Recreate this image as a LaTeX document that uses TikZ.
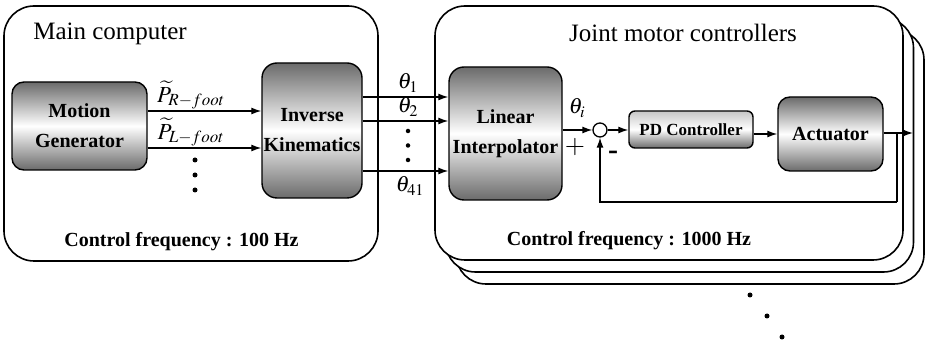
\documentclass[tikz,border=0pt]{standalone}
\usepackage{mathptmx}
\usepackage{fontspec}
\setmainfont{Liberation Serif}
\usetikzlibrary{arrows.meta}
\definecolor{boxdark}{gray}{0.42}
\begin{document}
\begin{tikzpicture}[x=1pt, y=-1pt,
    container/.style={draw=black, line width=1.6pt, rounded corners=30pt, fill=white},
    block/.style={draw=black, line width=1.4pt, rounded corners=12pt,
        top color=boxdark, bottom color=boxdark, middle color=white,
        font=\fontsize{20}{30}\selectfont\bfseries, align=center, inner sep=0pt},
    edge/.style={line width=1.3pt, -{Latex[length=10pt,width=7pt]}},
    line/.style={line width=1.3pt},
    title/.style={font=\fontsize{25}{30}\selectfont, anchor=base},
    freq/.style={font=\fontsize{20}{24}\selectfont\bfseries, anchor=base},
    sig/.style={font=\fontsize{22}{24}\selectfont, inner sep=1pt},
    dot/.style={circle, fill=black, inner sep=0pt, minimum size=5pt}
]
    \useasboundingbox (0,0) rectangle (929,344);
    \node[container, minimum width=374pt, minimum height=255pt] (mainpc) at (191,133.5) {};
    \node[container, minimum width=468pt, minimum height=254pt] (jmc3) at (690,157) {};
    \node[container, minimum width=468pt, minimum height=254pt] (jmc2) at (679.5,145) {};
    \node[container, minimum width=468pt, minimum height=254pt] (jmc) at (669,133) {};
    \node[title] (maintitle) at (110,40) {Main computer};
    \node[title] (jmctitle) at (683,42) {Joint motor controllers};
    \node[block, minimum width=135pt, minimum height=88pt] (mg) at (79.5,126) {Motion\\Generator};
    \node[block, minimum width=100pt, minimum height=135pt, rounded corners=15pt] (ik) at (312,130.5) {Inverse\\Kinematics};
    \node[block, minimum width=113pt, minimum height=133pt, rounded corners=15pt] (li) at (505.5,133.5) {Linear\\Interpolator};
    \node[block, minimum width=124pt, minimum height=37pt, rounded corners=6pt,
        top color=gray!45, bottom color=boxdark, middle color=white,
        font=\fontsize{17}{20}\selectfont\bfseries] (pd) at (691,129.5) {PD Controller};
    \node[block, minimum width=105pt, minimum height=74pt] (act) at (830.5,134) {Actuator};
    \node[circle, draw=black, line width=1.3pt, minimum size=14pt, inner sep=0pt] (sum) at (600,130) {};
    \node[freq] (freq1) at (181.5,247) {Control frequency : 100 Hz};
    \node[freq] (freq2) at (629,246) {Control frequency : 1000 Hz};
    \coordinate (rfoot) at (0,111);
    \coordinate (lfoot) at (0,148);
    \coordinate (r1) at (0,97);
    \coordinate (r2) at (0,121);
    \coordinate (r41) at (0,171);
    \coordinate (out) at (913,133);
    \coordinate (fb) at (897,202);
    \draw[edge] (mg.east |- rfoot) -- (ik.west |- rfoot);
    \draw[edge] (mg.east |- lfoot) -- (ik.west |- lfoot);
    \node[sig, font=\fontsize{23}{26}\selectfont] (prfoot) at (191,95) {$\widetilde{P}_{R-foot}$};
    \node[sig, font=\fontsize{23}{26}\selectfont] (plfoot) at (191,132) {$\widetilde{P}_{L-foot}$};
    \foreach \y [count=\i] in {160,175,190}
        \node[dot] (pdot\i) at (195,\y) {};
    \draw[edge] (ik.east |- r1) -- (li.west |- r1);
    \draw[edge] (ik.east |- r2) -- (li.west |- r2);
    \draw[edge] (ik.east |- r41) -- (li.west |- r41);
    \node[sig] (th1) at (408,83) {$\theta_1$};
    \node[sig] (th2) at (408,107) {$\theta_2$};
    \node[sig] (th41) at (410,186) {$\theta_{41}$};
    \foreach \y [count=\i] in {131,145.5,160}
        \node[dot, minimum size=4.5pt] (tdot\i) at (408,\y) {};
    \draw[edge] (li.east |- sum) -- (sum.west);
    \node[sig] (thi) at (577,108) {$\theta_i$};
    \node[sig, font=\fontsize{26}{28}\selectfont] (plus) at (575,147) {$+$};
    \node[sig, font=\fontsize{30}{30}\selectfont\bfseries] (minus) at (613,155) {-};
    \draw[edge] (sum.east) -- (pd.west |- sum);
    \draw[edge] (pd.east |- act) -- (act.west);
    \draw[edge] (act.east |- out) -- (out);
    \draw[line] (fb |- out) -- (fb);
    \draw[edge] (fb) -| (sum.south);
    \foreach \x/\y [count=\i] in {750/295,767/316,782/337}
        \node[dot] (cdot\i) at (\x,\y) {};
\end{tikzpicture}
\end{document}
